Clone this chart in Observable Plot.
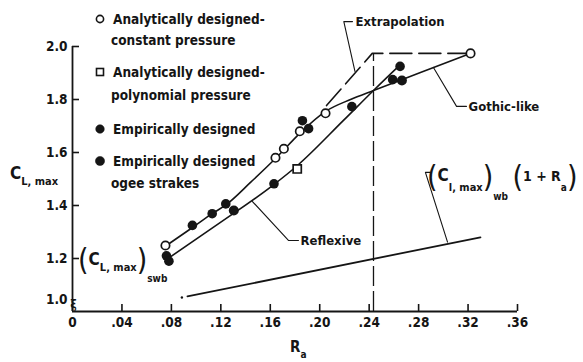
<!DOCTYPE html>
<html>
<head>
<meta charset="utf-8">
<script src="https://cdn.jsdelivr.net/npm/d3@7"></script>
<script src="https://cdn.jsdelivr.net/npm/@observablehq/plot@0.6"></script>
<style>
  html, body { margin: 0; padding: 0; background: #fff; }
  #wrap { position: relative; width: 583px; height: 362px; overflow: hidden; background: #fff;
          font-family: "DejaVu Sans Condensed", "DejaVu Sans", sans-serif; font-weight: bold; color: #151515; }
  #wrap svg.plot { position: absolute; left: 0; top: 0; }
  .lg { position: absolute; font-size: 13.5px; line-height: 16px; white-space: nowrap; }
  .sym { position: absolute; width: 12px; height: 12px; }
</style>
</head>
<body>
<div id="wrap"></div>
<script>
// ---------- data ----------
const xTicks = [0, 0.04, 0.08, 0.12, 0.16, 0.20, 0.24, 0.28, 0.32, 0.36];
const xTickLabels = ["0", ".04", ".08", ".12", ".16", ".20", ".24", ".28", ".32", ".36"];
const yTicks = [1.2, 1.4, 1.6, 1.8, 2.0];
const yTickLabels = ["1.2", "1.4", "1.6", "1.8", "2.0"];
const yBottomLabel = "1.0";

// Analytically designed - constant pressure (open circles)
const analyticConstant = [[0.0752, 1.249], [0.1642, 1.58], [0.171, 1.614], [0.1839, 1.68], [0.2047, 1.748], [0.322, 1.974]];
// Analytically designed - polynomial pressure (open squares)
const analyticPolynomial = [[0.1818, 1.538]];
// Empirically designed (filled circles)
const empirical = [[0.076, 1.21], [0.078, 1.19], [0.097, 1.325], [0.113, 1.369], [0.124, 1.406], [0.163, 1.482],
                   [0.186, 1.72], [0.191, 1.69], [0.226, 1.773], [0.265, 1.925], [0.259, 1.875]];
// Empirically designed ogee strakes
const empiricalOgee = [[0.1305, 1.381], [0.2665, 1.872]];

// faired curves
const gothicCurve = [[0.076, 1.249], [0.0971, 1.317], [0.1133, 1.370], [0.1246, 1.404], [0.144, 1.487], [0.165, 1.581],
                     [0.1845, 1.675], [0.2047, 1.755], [0.2249, 1.80], [0.2435, 1.834], [0.2815, 1.902], [0.322, 1.974]];
const reflexiveCurve = [[0.076, 1.196], [0.1197, 1.336], [0.1618, 1.475], [0.182, 1.551], [0.2192, 1.721], [0.2435, 1.834], [0.2637, 1.925]];
const extrapolation = [[0.2055, 1.777], [0.2425, 1.974], [0.322, 1.974]];
const dividerX = [0.2435];
const dividerSpan = [1.0, 1.974];
const wbLine = [[0.093, 1.057], [0.330, 1.28]];
const wbDot = [[0.0885, 1.053]];

// annotation labels and leader lines (data units)
const annotations = [
  {text: "Extrapolation", x: 0.229, y: 2.094},
  {text: "Gothic-like", x: 0.3204, y: 1.774},
  {text: "Reflexive", x: 0.1845, y: 1.268}
];
const leaders = [
  [[0.2265, 2.094], [0.2195, 2.094], [0.2285, 1.906]],
  [[0.3187, 1.774], [0.3107, 1.774], [0.292, 1.921]],
  [[0.1828, 1.268], [0.1747, 1.268], [0.1456, 1.415]],
  [[0.2895, 1.525], [0.2855, 1.525], [0.3034, 1.262]]
];

// legend
const legendEntries = [
  {symbol: "openCircle", lines: ["Analytically designed-", "constant pressure"]},
  {symbol: "openSquare", lines: ["Analytically designed-", "polynomial pressure"]},
  {symbol: "filledCircle", lines: ["Empirically designed"]},
  {symbol: "ogee", lines: ["Empirically designed", "ogee strakes"]}
];

// rich (subscripted) labels: [text, font size, baseline shift, weight]
const yAxisLabel = {x: -0.0502, y: 1.498, parts: [["C", 17, 0], ["L, max", 11, 6]]};
const xAxisLabel = {x: 0.1764, y: 0.8453, parts: [["R", 15, 0], ["a", 10, 6]]};
const swbLabel = {x: 0.0049, y: 1.1736, parts: [["(", 30, 5, "normal"], ["C", 17, 0], ["L, max", 11, 6], [")", 30, 5, "normal"], ["swb", 10, 17]]};
const wbLabel = {x: 0.2872, y: 1.4906, parts: [["(", 30, 6, "normal"], ["C", 17, 0], ["l, max", 11, 10], [")", 30, 6, "normal"], ["wb", 10, 19],
                 [" ", 14, 0], ["(", 30, 6, "normal"], ["1 + R", 14, 0], ["a", 10, 10], [")", 30, 6, "normal"]]};

// ---------- drawing ----------
const FONT = '"DejaVu Sans Condensed", "DejaVu Sans", sans-serif';
const INK = "#151515";
const px = d => d[0], py = d => d[1];
const leaderRows = leaders.flatMap((l, k) => l.map(p => ({x: p[0], y: p[1], k})));

const plot = Plot.plot({
  width: 583, height: 362,
  marginLeft: 72, marginRight: 66, marginTop: 46, marginBottom: 51,
  x: {domain: [0, 0.36]},
  y: {domain: [1.0, 2.0]},
  style: {fontFamily: FONT, fontSize: "13.5px", fontWeight: "bold", color: INK, background: "transparent", overflow: "visible"},
  marks: [
    Plot.ruleX([0], {y1: 1.0, y2: 2.0, stroke: INK, strokeWidth: 1.8}),
    Plot.ruleY([1.0], {x1: 0, x2: 0.36, stroke: INK, strokeWidth: 1.8}),
    Plot.axisX(xTicks, {tickSize: -7, tickPadding: 13, strokeWidth: 1.6, tickFormat: d => xTickLabels[xTicks.indexOf(d)], label: null}),
    Plot.axisY(yTicks, {tickSize: -7, tickPadding: 12, strokeWidth: 1.6, tickFormat: d => yTickLabels[yTicks.indexOf(d)], label: null}),
    Plot.text([1.0], {x: 0, y: d => d, text: () => yBottomLabel, textAnchor: "end", dx: -5, dy: -12}),
    Plot.text([1.0], {x: 0, y: d => d, text: () => "ξ", dx: 1, dy: -7, fontSize: 12}),
    Plot.ruleX(dividerX, {y1: dividerSpan[0], y2: dividerSpan[1], stroke: INK, strokeWidth: 1.3, strokeDasharray: "20,5"}),
    Plot.line(extrapolation, {x: px, y: py, stroke: INK, strokeWidth: 1.6, strokeDasharray: "22,7"}),
    Plot.line(wbLine, {x: px, y: py, stroke: INK, strokeWidth: 1.8}),
    Plot.dot(wbDot, {x: px, y: py, r: 1.2, fill: INK}),
    Plot.line(gothicCurve, {x: px, y: py, curve: "monotone-x", stroke: INK, strokeWidth: 1.6}),
    Plot.line(reflexiveCurve, {x: px, y: py, curve: "monotone-x", stroke: INK, strokeWidth: 1.6}),
    Plot.line(leaderRows, {x: "x", y: "y", z: "k", stroke: INK, strokeWidth: 1.1}),
    Plot.text(annotations, {x: "x", y: "y", text: "text", textAnchor: "start", fontSize: 13}),
    Plot.dot(empirical, {x: px, y: py, r: 4.8, fill: INK}),
    Plot.dot(empiricalOgee, {x: px, y: py, r: 5, fill: INK}),
    Plot.dot(analyticConstant, {x: px, y: py, r: 4.2, fill: "white", stroke: INK, strokeWidth: 1.7}),
    Plot.dot(analyticPolynomial, {x: px, y: py, symbol: "square", r: 4.6, fill: "white", stroke: INK, strokeWidth: 1.7})
  ]
});

const wrap = document.getElementById("wrap");
wrap.appendChild(plot);

const sx = plot.scale("x"), sy = plot.scale("y");
function rich(lbl) {
  const t = d3.select(plot).append("text")
    .attr("x", sx.apply(lbl.x)).attr("y", sy.apply(lbl.y))
    .attr("text-anchor", "start")
    .attr("font-family", FONT).attr("font-weight", "bold").attr("fill", INK)
    .style("white-space", "pre");
  let prev = 0;
  for (const [s, size, shift, weight] of lbl.parts) {
    t.append("tspan").attr("font-size", size).attr("dy", shift - prev)
      .attr("font-weight", weight || "bold").text(s);
    prev = shift;
  }
}
[yAxisLabel, xAxisLabel, swbLabel, wbLabel].forEach(rich);

// legend (HTML overlay)
const legendLineY = [19, 40, 72, 95, 129, 161, 183];
let li = 0;
for (const e of legendEntries) {
  e.lines.forEach((line, j) => {
    const div = document.createElement("div");
    div.className = "lg";
    div.style.top = (legendLineY[li] - 8) + "px";
    div.style.left = (j === 0 ? 113 : 111) + "px";
    div.textContent = line;
    wrap.appendChild(div);
    if (j === 0) {
      const ns = "http://www.w3.org/2000/svg";
      const s = document.createElementNS(ns, "svg");
      s.setAttribute("class", "sym");
      s.setAttribute("viewBox", "0 0 12 12");
      s.style.left = "94px";
      s.style.top = (legendLineY[li] - 6) + "px";
      let shape;
      if (e.symbol === "openSquare") {
        shape = document.createElementNS(ns, "rect");
        shape.setAttribute("x", 2.5); shape.setAttribute("y", 2.5);
        shape.setAttribute("width", 7); shape.setAttribute("height", 7);
      } else {
        shape = document.createElementNS(ns, "circle");
        shape.setAttribute("cx", 6); shape.setAttribute("cy", 6);
        shape.setAttribute("r", e.symbol === "openCircle" ? 3.6 : (e.symbol === "ogee" ? 4.6 : 4.3));
      }
      const open = e.symbol.startsWith("open");
      shape.setAttribute("fill", open ? "white" : INK);
      shape.setAttribute("stroke", INK);
      shape.setAttribute("stroke-width", open ? 1.6 : 0.5);
      s.appendChild(shape);
      wrap.appendChild(s);
    }
    li++;
  });
}
</script>
</body>
</html>
